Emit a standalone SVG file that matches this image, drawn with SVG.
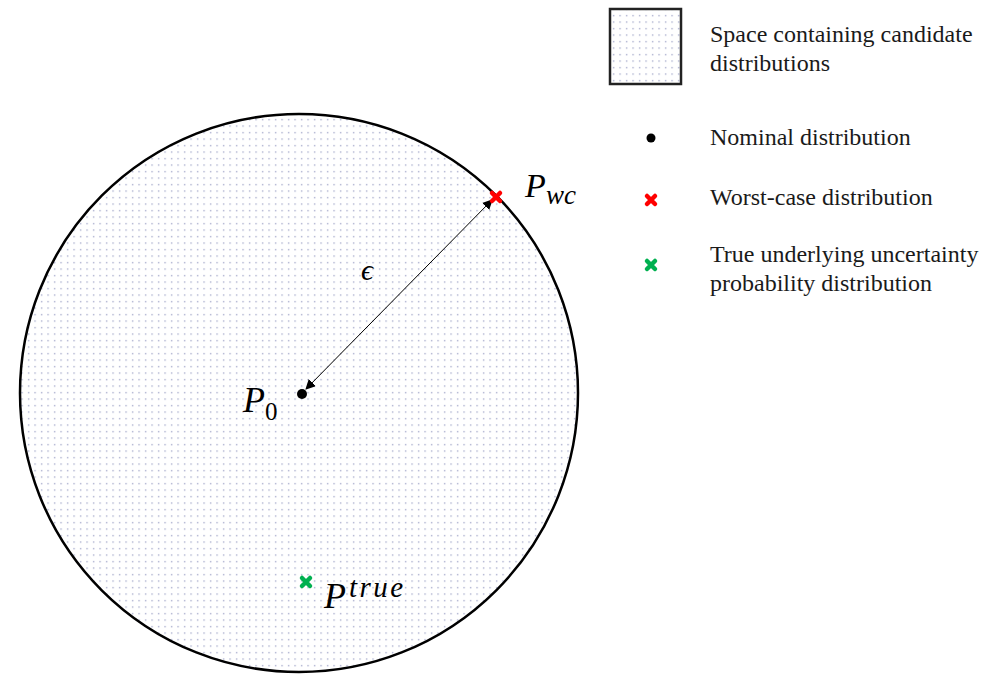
<svg xmlns="http://www.w3.org/2000/svg" width="990" height="674" viewBox="0 0 990 674">
<defs>
<pattern id="dots" width="6.5" height="6.5" patternUnits="userSpaceOnUse">
<rect width="6.5" height="6.5" fill="#ffffff"/>
<rect x="2" y="2" width="1.2" height="1.2" fill="#8a90bc"/>
</pattern>
<marker id="ah" viewBox="0 0 10 10" refX="9" refY="5" markerWidth="10" markerHeight="10" markerUnits="userSpaceOnUse" orient="auto-start-reverse">
<path d="M0,0 L10,5 L0,10 z" fill="#000"/>
</marker>
<g id="xmark"><path d="M-4,-4 L4,4 M-4,4 L4,-4" stroke-width="4.5" stroke-linecap="round"/></g>
</defs>
<style>
.lbl{font-family:"Liberation Serif","Times New Roman",serif;font-size:24px;fill:#1a1a1a}
.math{font-family:"Liberation Serif","Times New Roman",serif;font-style:italic;fill:#000}
</style>
<rect width="990" height="674" fill="#fff"/>
<g id="space">
<circle cx="299" cy="393" r="279" fill="url(#dots)" stroke="#000" stroke-width="2.5"/>
</g>
<g id="connectors">
<line x1="492" y1="200" x2="306" y2="389" stroke="#000" stroke-width="1" marker-start="url(#ah)" marker-end="url(#ah)"/>
</g>
<g id="p0">
<circle cx="302" cy="394" r="5" fill="#000"/>
<text class="math" x="243" y="412" font-size="36">P</text>
<text x="265" y="420" font-size="25" style="font-family:'Liberation Serif',serif;font-style:normal">0</text>
</g>
<g id="pwc">
<use href="#xmark" x="496" y="197" stroke="#ff0000"/>
<text class="math" x="525" y="197" font-size="34">P</text>
<text class="math" x="546" y="204" font-size="27">wc</text>
</g>
<g id="eps">
<text class="math" x="361" y="280" font-size="30">ϵ</text>
</g>
<g id="ptrue">
<use href="#xmark" x="306" y="582" stroke="#00b050"/>
<text class="math" x="324" y="608" font-size="36">P</text>
<text class="math" x="349" y="597" font-size="29" textLength="54" lengthAdjust="spacing">true</text>
</g>
<g id="legend">
<rect x="610" y="9" width="71" height="75" fill="url(#dots)" stroke="#222" stroke-width="2.5"/>
<text class="lbl" x="710" y="42">Space containing candidate</text>
<text class="lbl" x="710" y="71">distributions</text>
<circle cx="651" cy="138" r="4.5" fill="#000"/>
<text class="lbl" x="710" y="145">Nominal distribution</text>
<use href="#xmark" x="651" y="200" stroke="#ff0000"/>
<text class="lbl" x="710" y="205">Worst-case distribution</text>
<use href="#xmark" x="651" y="265" stroke="#00b050"/>
<text class="lbl" x="710" y="262">True underlying uncertainty</text>
<text class="lbl" x="710" y="291">probability distribution</text>
</g>
</svg>
